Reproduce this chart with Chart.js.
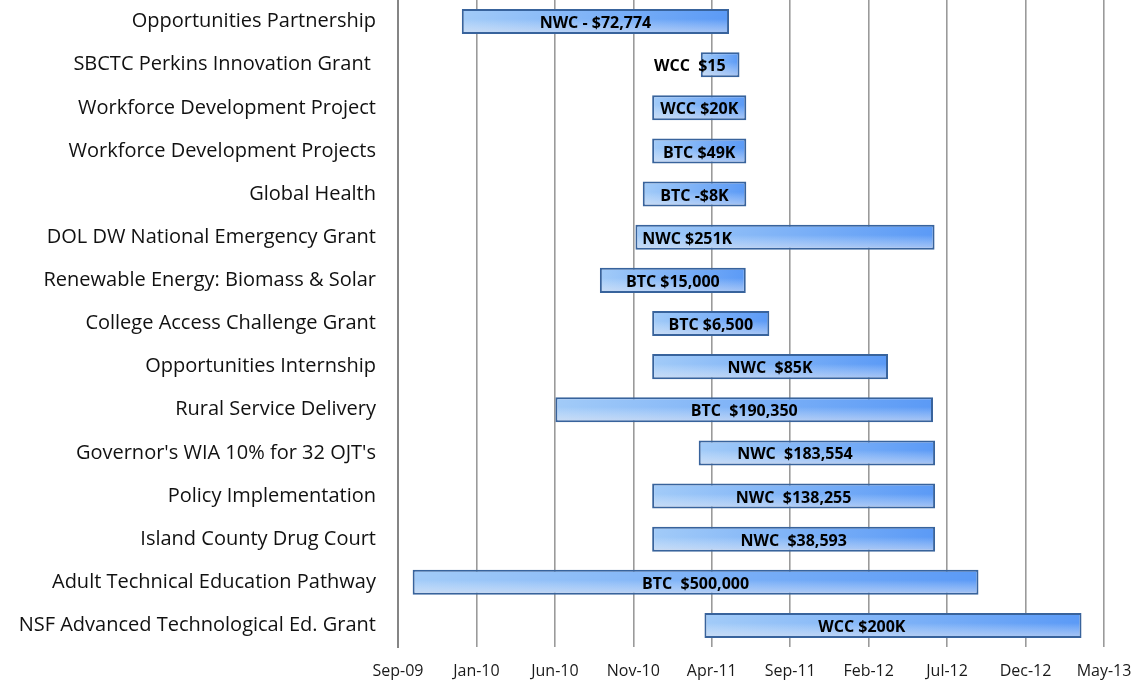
<!DOCTYPE html>
<html>
<head>
<meta charset="utf-8">
<script src="https://cdn.jsdelivr.net/npm/chart.js@4"></script>
<style>
  html, body { margin: 0; padding: 0; background: #fff; }
  #wrap { width: 1137px; height: 681px; }
</style>
</head>
<body>
<div id="wrap"><canvas id="grantChart"></canvas></div>
<script>
// grants, top to bottom
const grants = [
    'Opportunities Partnership',
    'SBCTC Perkins Innovation Grant ',
    'Workforce Development Project',
    'Workforce Development Projects',
    'Global Health',
    'DOL DW National Emergency Grant',
    'Renewable Energy: Biomass & Solar',
    'College Access Challenge Grant',
    'Opportunities Internship',
    'Rural Service Delivery',
    "Governor's WIA 10% for 32 OJT's",
    'Policy Implementation',
    'Island County Drug Court',
    'Adult Technical Education Pathway',
    'NSF Advanced Technological Ed. Grant'
];

const startDates = [
    '2010-01-01', '2011-04-03', '2010-12-31', '2010-12-31', '2010-12-13',
    '2010-11-29', '2010-09-22', '2010-12-31', '2010-12-31', '2010-06-29',
    '2011-03-30', '2010-12-31', '2010-12-31', '2009-09-29', '2011-04-10'
];

const endDates = [
    '2011-05-27', '2011-06-16', '2011-06-29', '2011-06-29', '2011-06-29',
    '2012-06-23', '2011-06-28', '2011-08-12', '2012-03-26', '2012-06-20',
    '2012-06-24', '2012-06-24', '2012-06-24', '2012-09-15', '2013-03-31'
];

const barTexts = [
    'NWC - $72,774', 'WCC  $15', 'WCC $20K', 'BTC $49K', 'BTC -$8K',
    'NWC $251K', 'BTC $15,000', 'BTC $6,500', 'NWC  $85K', 'BTC  $190,350',
    'NWC  $183,554', 'NWC  $138,255', 'NWC  $38,593', 'BTC  $500,000', 'WCC $200K'
];

// where a label was placed off-centre (date it sits over), null = centred
const labelAt = [
    null, '2011-03-13', null, null, null,
    '2011-03-08', null, null, null, null,
    '2011-09-30', null, null, null, '2012-02-05'
];

const axisStart = '2009-09-01';
const axisEnd = '2013-05-13';
const tickLabels = ['Sep-09', 'Jan-10', 'Jun-10', 'Nov-10', 'Apr-11', 'Sep-11', 'Feb-12', 'Jul-12', 'Dec-12', 'May-13'];

// excel style day serial
function serial(s) {
    const p = s.split('-').map(Number);
    return Date.UTC(p[0], p[1] - 1, p[2]) / 86400000 + 25569;
}

const BAR_PCT = 0.58;

function barFill(ctx) {
    const chart = ctx.chart;
    const xs = chart.scales.x, ys = chart.scales.y;
    if (!xs || !ys || !chart.chartArea || ctx.dataIndex === undefined) return '#8ab8f5';
    const i = ctx.dataIndex;
    const x0 = Math.round(xs.getPixelForValue(serial(startDates[i])));
    const x1 = Math.round(xs.getPixelForValue(serial(endDates[i])));
    const band = (ys.bottom - ys.top) / grants.length;
    const h = Math.max(2, Math.round(band * BAR_PCT));
    const w = Math.max(2, x1 - x0);
    const y0 = Math.round(ys.getPixelForValue(i) - h / 2);

    const off = document.createElement('canvas');
    off.width = w; off.height = h;
    const g = off.getContext('2d');
    const hz = g.createLinearGradient(0, 0, w, 0);
    hz.addColorStop(0, '#a2cbf8');
    hz.addColorStop(1, '#5b9af6');
    g.fillStyle = hz;
    g.fillRect(0, 0, w, h);
    const vt = g.createLinearGradient(0, 0, 0, h);
    vt.addColorStop(0, 'rgba(255,255,255,0)');
    vt.addColorStop(0.4, 'rgba(255,255,255,0)');
    vt.addColorStop(1, 'rgba(236,234,240,0.55)');
    g.fillStyle = vt;
    g.fillRect(0, 0, w, h);

    const pat = chart.ctx.createPattern(off, 'no-repeat');
    pat.setTransform(new DOMMatrix().translate(x0, y0));
    return pat;
}

const barLabels = {
    id: 'barLabels',
    afterDatasetsDraw(chart) {
        const c = chart.ctx;
        const xs = chart.scales.x;
        const meta = chart.getDatasetMeta(0);
        c.save();
        c.font = 'bold 16px "Open Sans"';
        c.fillStyle = '#000';
        c.textAlign = 'center';
        c.textBaseline = 'middle';
        meta.data.forEach((bar, i) => {
            let cx = (bar.x + bar.base) / 2;
            if (labelAt[i]) cx = xs.getPixelForValue(serial(labelAt[i]));
            c.fillText(barTexts[i], cx, bar.y + 2);
        });
        c.restore();
    }
};

new Chart(document.getElementById('grantChart'), {
    type: 'bar',
    data: {
        labels: grants,
        datasets: [{
            data: grants.map((g, i) => [serial(startDates[i]), serial(endDates[i])]),
            backgroundColor: barFill,
            borderColor: '#38639c',
            borderWidth: 2,
            borderSkipped: false,
            categoryPercentage: 1,
            barPercentage: BAR_PCT
        }]
    },
    options: {
        indexAxis: 'y',
        responsive: true,
        maintainAspectRatio: false,
        animation: false,
        layout: { padding: { left: 0, right: 33, top: 0, bottom: 0 } },
        plugins: {
            legend: { display: false },
            tooltip: { enabled: false }
        },
        scales: {
            x: {
                type: 'linear',
                min: serial(axisStart),
                max: serial(axisEnd),
                grid: { color: '#9a9a9a', lineWidth: 1.6, drawTicks: false },
                border: { display: false },
                ticks: {
                    stepSize: 150,
                    autoSkip: false,
                    maxRotation: 0,
                    padding: 15,
                    color: '#1a1a1a',
                    font: { family: 'Open Sans', size: 16 },
                    callback: (v, idx) => tickLabels[idx]
                },
                afterFit: (s) => {
                    s.height = 34;
                    s.paddingLeft = 0;
                    s.paddingRight = 0;
                }
            },
            y: {
                grid: { display: false, drawTicks: false },
                border: { display: true, color: '#858585', width: 2 },
                ticks: {
                    padding: 22,
                    color: '#111',
                    font: { family: 'Open Sans', size: 20 }
                },
                afterFit: (s) => {
                    s.width = 398;
                    s.paddingTop = 0;
                    s.paddingBottom = 0;
                }
            }
        }
    },
    plugins: [barLabels]
});
</script>
</body>
</html>
